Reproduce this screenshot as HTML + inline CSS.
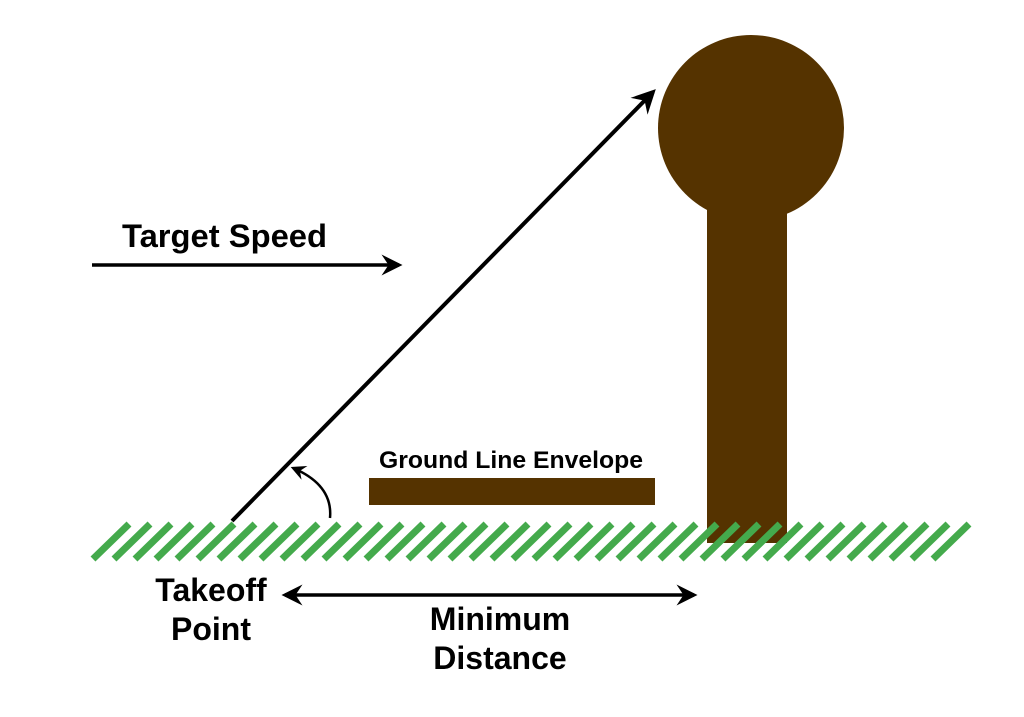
<!DOCTYPE html>
<html><head><meta charset="utf-8"><style>
html,body{margin:0;padding:0;background:#fff;}
svg{display:block;}
text{font-family:"Liberation Sans",Arial,sans-serif;font-weight:bold;fill:#000;}
</style></head><body>
<svg width="1024" height="717" viewBox="0 0 1024 717" xmlns="http://www.w3.org/2000/svg">
<defs>
<marker id="ah" viewBox="0 0 12 12" refX="10" refY="6" markerWidth="6" markerHeight="6" markerUnits="strokeWidth" orient="auto-start-reverse">
<path d="M0,0 L12,6 L0,12 L4,6 Z" fill="#000"/>
</marker>
</defs>
<circle cx="751" cy="128" r="93" fill="#553300"/>
<rect x="707" y="190" width="80" height="353" fill="#553300"/>
<rect x="369" y="478" width="286" height="27" fill="#553300"/>
<text x="511" y="468" font-size="24" text-anchor="middle" textLength="264" lengthAdjust="spacingAndGlyphs">Ground Line Envelope</text>
<path stroke="#44aa4c" stroke-width="7" fill="none" d="M93 559 l36 -35 m-15 35 l36 -35 m-15 35 l36 -35 m-15 35 l36 -35 m-15 35 l36 -35 m-15 35 l36 -35 m-15 35 l36 -35 m-15 35 l36 -35 m-15 35 l36 -35 m-15 35 l36 -35 m-15 35 l36 -35 m-15 35 l36 -35 m-15 35 l36 -35 m-15 35 l36 -35 m-15 35 l36 -35 m-15 35 l36 -35 m-15 35 l36 -35 m-15 35 l36 -35 m-15 35 l36 -35 m-15 35 l36 -35 m-15 35 l36 -35 m-15 35 l36 -35 m-15 35 l36 -35 m-15 35 l36 -35 m-15 35 l36 -35 m-15 35 l36 -35 m-15 35 l36 -35 m-15 35 l36 -35 m-15 35 l36 -35 m-15 35 l36 -35 m-15 35 l36 -35 m-15 35 l36 -35 m-15 35 l36 -35 m-15 35 l36 -35 m-15 35 l36 -35 m-15 35 l36 -35 m-15 35 l36 -35 m-15 35 l36 -35 m-15 35 l36 -35 m-15 35 l36 -35 m-15 35 l36 -35"/>
<line x1="232" y1="521" x2="653" y2="92" stroke="#000" stroke-width="4" marker-end="url(#ah)"/>
<path d="M330 518 Q333 485 293 468" stroke="#000" stroke-width="2.5" fill="none" marker-end="url(#ah)"/>
<text x="122" y="247" font-size="32" textLength="205" lengthAdjust="spacingAndGlyphs">Target Speed</text>
<line x1="92" y1="265" x2="399" y2="265" stroke="#000" stroke-width="3.5" marker-end="url(#ah)"/>
<line x1="285" y1="595" x2="694" y2="595" stroke="#000" stroke-width="3.5" marker-start="url(#ah)" marker-end="url(#ah)"/>
<text x="211" y="601" font-size="32" text-anchor="middle">Takeoff</text>
<text x="211" y="640" font-size="32" text-anchor="middle">Point</text>
<text x="500" y="630" font-size="32" text-anchor="middle">Minimum</text>
<text x="500" y="669" font-size="32" text-anchor="middle">Distance</text>
</svg>
</body></html>
